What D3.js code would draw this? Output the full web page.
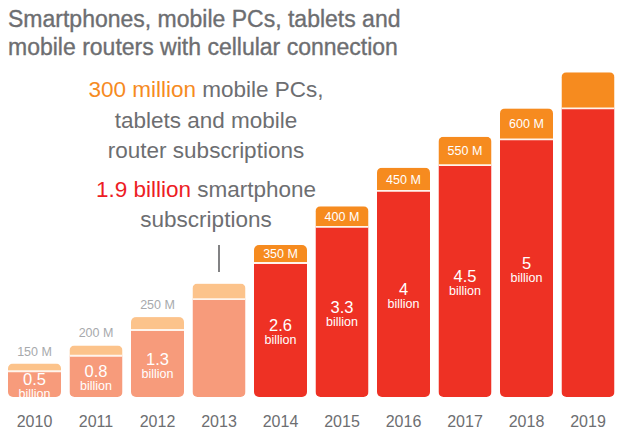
<!DOCTYPE html>
<html>
<head>
<meta charset="utf-8">
<script src="https://cdn.jsdelivr.net/npm/d3@7"></script>
<style>
  html, body { margin: 0; padding: 0; background: #fff; }
  svg { display: block; font-family: "Liberation Sans", Arial, sans-serif; }
</style>
</head>
<body>
<div id="chart"></div>
<script>
// data (billions)
const years = ["2010", "2011", "2012", "2013", "2014", "2015", "2016", "2017", "2018", "2019"];
const smartphones = [0.5, 0.8, 1.3, 1.9, 2.6, 3.3, 4, 4.5, 5, 5.6];
const mobilePCs = [0.15, 0.2, 0.25, 0.3, 0.35, 0.4, 0.45, 0.55, 0.6, 0.7];
const smartLabels = ["0.5", "0.8", "1.3", "", "2.6", "3.3", "4", "4.5", "5", ""];
const pcLabels = ["150 M", "200 M", "250 M", "", "350 M", "400 M", "450 M", "550 M", "600 M", ""];
const titleLines = ["Smartphones, mobile PCs, tablets and", "mobile routers with cellular connection"];

const W = 620, H = 441;
const grey = "#6d6e71";

const svg = d3.select("#chart").append("svg")
    .attr("width", W)
    .attr("height", H);

const x = d3.scaleBand()
    .domain(years)
    .range([8, 614.5])
    .paddingInner(0.138)
    .paddingOuter(0);

const y = d3.scaleLinear()
    .domain([0, 6.5])
    .range([397, 62]);

// first four years are the pale shades, the rest full colour
const isPast = i => i < 4;
const bottomColor = i => isPast(i) ? "#f79b7b" : "#ee3124";
const topColor = i => isPast(i) ? "#fcc38b" : "#f68b1f";

const data = years.map((yr, i) => ({
    year: yr, i: i,
    phone: smartphones[i], pc: mobilePCs[i],
    phoneLabel: smartLabels[i], pcLabel: pcLabels[i]
}));

// title
svg.append("g").selectAll("text")
    .data(titleLines)
    .enter().append("text")
    .attr("x", 8)
    .attr("y", (d, i) => 27 + i * 28)
    .style("font-size", "23px")
    .style("fill", grey)
    .style("stroke", grey)
    .style("stroke-width", 0.35)
    .text(d => d);

// clip paths so each bar is one rounded block
const defs = svg.append("defs");
defs.selectAll("clipPath")
    .data(data)
    .enter().append("clipPath")
    .attr("id", d => "clip" + d.year)
    .append("rect")
    .attr("x", d => x(d.year))
    .attr("y", d => y(d.phone + d.pc))
    .attr("width", x.bandwidth())
    .attr("height", d => y(0) - y(d.phone + d.pc))
    .attr("rx", 5);

const bars = svg.append("g").selectAll(".bar")
    .data(data)
    .enter().append("g")
    .attr("class", "bar")
    .attr("clip-path", d => `url(#clip${d.year})`);

bars.append("rect")
    .attr("x", d => x(d.year))
    .attr("y", d => y(d.phone))
    .attr("width", x.bandwidth())
    .attr("height", d => y(0) - y(d.phone))
    .attr("fill", d => bottomColor(d.i));

bars.append("rect")
    .attr("x", d => x(d.year))
    .attr("y", d => y(d.phone + d.pc))
    .attr("width", x.bandwidth())
    .attr("height", d => y(d.phone) - y(d.phone + d.pc))
    .attr("fill", d => topColor(d.i));

// thin light divider between the two parts
bars.append("line")
    .attr("x1", d => x(d.year))
    .attr("x2", d => x(d.year) + x.bandwidth())
    .attr("y1", d => y(d.phone))
    .attr("y2", d => y(d.phone))
    .attr("stroke", "#fff4ec")
    .attr("stroke-width", 1.8);

// smartphone labels inside bars
const inner = svg.append("g").selectAll(".inner")
    .data(data.filter(d => d.phoneLabel))
    .enter().append("g")
    .attr("transform", d => {
        const mid = (y(0) + y(d.phone)) / 2;
        return `translate(${x(d.year) + x.bandwidth() / 2},${mid})`;
    });

inner.append("text")
    .attr("y", 1)
    .attr("text-anchor", "middle")
    .style("font-size", "16.5px")
    .style("fill", "#fff")
    .text(d => d.phoneLabel);

inner.append("text")
    .attr("y", 14)
    .attr("text-anchor", "middle")
    .style("font-size", "12.5px")
    .style("fill", "#fff")
    .text("billion");

// mobile PC labels: above the pale bars, inside the orange ones
svg.append("g").selectAll("text")
    .data(data.filter(d => d.pcLabel))
    .enter().append("text")
    .attr("x", d => x(d.year) + x.bandwidth() / 2)
    .attr("y", d => isPast(d.i)
        ? y(d.phone + d.pc) - 8
        : (y(d.phone) + y(d.phone + d.pc)) / 2 + 4.5)
    .attr("text-anchor", "middle")
    .style("font-size", "12.5px")
    .style("fill", d => isPast(d.i) ? "#a7a9ac" : "#fff")
    .text(d => d.pcLabel);

// year axis
const xAxis = svg.append("g")
    .attr("transform", `translate(0,${y(0)})`)
    .call(d3.axisBottom(x).tickSize(0).tickPadding(19));
xAxis.select(".domain").remove();
xAxis.selectAll("text")
    .style("font-family", "'Liberation Sans', Arial, sans-serif")
    .style("font-size", "16px")
    .style("fill", grey);

// annotation for 2013
const noteLines = [
    { y: 97, parts: [["300 million", "#f68b1f"], [" mobile PCs,", grey]] },
    { y: 128, parts: [["tablets and mobile", grey]] },
    { y: 158, parts: [["router subscriptions", grey]] },
    { y: 197, parts: [["1.9 billion", "#ed1c24"], [" smartphone", grey]] },
    { y: 227, parts: [["subscriptions", grey]] }
];

noteLines.forEach(line => {
    const t = svg.append("text")
        .attr("x", 206)
        .attr("y", line.y)
        .attr("text-anchor", "middle")
        .style("font-size", "22.5px");
    line.parts.forEach(p => {
        t.append("tspan").style("fill", p[1]).text(p[0]);
    });
});

svg.append("line")
    .attr("x1", x("2013") + x.bandwidth() / 2)
    .attr("x2", x("2013") + x.bandwidth() / 2)
    .attr("y1", 245)
    .attr("y2", 272)
    .attr("stroke", "#58595b")
    .attr("stroke-width", 1.5);
</script>
</body>
</html>
